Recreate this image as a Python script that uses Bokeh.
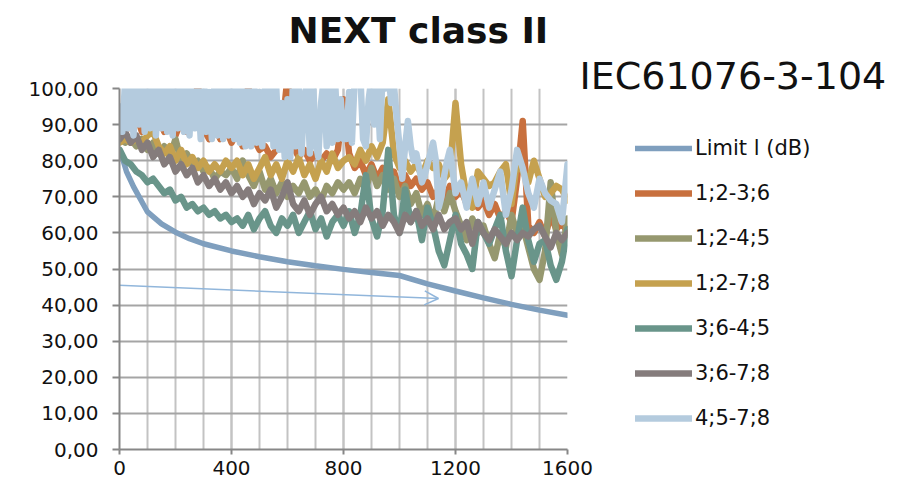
from bokeh.plotting import figure
from bokeh.models import (FixedTicker, Legend, LegendItem, Title, Arrow, OpenHead, Range1d)
from bokeh.embed import file_html
from bokeh.resources import INLINE

# ---------------- data ----------------
limit_freq = [1, 10, 25, 50, 100, 150, 200, 250, 300, 400, 500, 600, 700, 800,
              900, 1000, 1100, 1200, 1300, 1400, 1500, 1600]
limit_db = [82.0, 80.8, 77.0, 72.8, 65.8, 62.5, 60.2, 58.4, 57.0, 55.0, 53.4, 52.0,
            50.9, 49.9, 49.0, 48.2, 45.9, 43.9, 42.0, 40.2, 38.6, 37.2]

freq = [1] + list(range(20, 1601, 20))

p12_36 = [90, 92, 89, 93, 88, 91, 89, 92, 88, 90, 87, 91, 88, 93, 101, 89, 86, 90, 86, 89, 85,
          88, 84, 101, 86, 83, 84, 81, 83, 88, 103, 84, 81, 83, 80, 82, 80, 82, 80, 83, 97,
          82, 78, 80, 76, 79, 75, 78, 74, 77, 72, 76, 73, 75, 72, 74, 70, 72, 69, 73, 70,
          72, 68, 70, 67, 69, 65, 68, 64, 66, 63, 75, 91, 62, 60, 63, 59, 65, 61, 63, 60]

p12_45 = [86, 85, 86, 84, 86, 83, 85, 82, 84, 81, 86, 80, 82, 79, 80, 77, 78, 75, 77, 76, 78,
          75, 80, 76, 73, 77, 72, 75, 71, 74, 70, 73, 71, 74, 70, 72, 69, 73, 71, 74, 72,
          74, 71, 75, 72, 78, 73, 76, 72, 75, 70, 73, 68, 71, 65, 68, 63, 70, 66, 71, 66,
          62, 58, 64, 60, 62, 57, 53, 60, 56, 65, 60, 62, 56, 50, 47, 55, 74, 60, 54, 64]

p12_78 = [85, 86, 85, 86, 85, 87, 88, 84, 82, 84, 80, 83, 79, 81, 78, 80, 77, 79, 77, 80, 78,
          80, 76, 79, 75, 78, 81, 76, 79, 75, 80, 77, 81, 76, 79, 75, 80, 77, 82, 78, 80,
          81, 79, 83, 80, 84, 81, 85, 97, 82, 78, 80, 77, 79, 76, 80, 78, 79, 75, 77, 96,
          79, 70, 67, 77, 75, 73, 74, 77, 79, 68, 80, 77, 74, 80, 75, 70, 71, 73, 72, 69]

p36_45 = [83, 80, 79, 77, 76, 74, 75, 73, 71, 72, 69, 70, 67, 68, 66, 67, 65, 66, 64, 65, 63,
          64, 62, 65, 61, 64, 66, 62, 60, 64, 62, 65, 60, 63, 66, 61, 64, 59, 63, 65, 62,
          66, 60, 65, 76, 64, 59, 66, 83, 65, 60, 72, 63, 66, 58, 67, 62, 55, 51, 58, 65,
          57, 54, 50, 63, 60, 57, 61, 65, 55, 48, 58, 67, 58, 52, 57, 58, 51, 47, 52, 61]

p36_78 = [86, 88, 85, 87, 83, 85, 81, 83, 79, 81, 77, 79, 76, 78, 74, 76, 73, 75, 72, 74, 71,
          73, 70, 72, 68, 71, 69, 72, 67, 70, 74, 68, 66, 69, 65, 68, 70, 66, 68, 65, 67,
          64, 66, 63, 67, 64, 66, 62, 65, 63, 60, 65, 63, 66, 62, 64, 61, 65, 61, 63, 64,
          61, 63, 57, 63, 60, 58, 61, 59, 57, 60, 58, 60, 59, 61, 62, 59, 56, 60, 58, 60]

# 4;5-7;8 is sampled more densely (every 10 MHz up to 1200 MHz)
freq_45_78 = [1] + list(range(10, 1201, 10)) + list(range(1220, 1601, 20))
p45_78 = [95, 88, 102, 89, 104, 87, 101, 90, 105, 88, 103, 89, 106, 87, 102, 89, 104, 88, 101, 87,
          103, 89, 106, 88, 102, 87, 104, 89, 101, 86, 105, 88, 99, 86, 103, 87, 101, 86, 104, 87,
          100,
          86, 101, 85, 100, 84, 102, 84, 103, 85, 99, 84, 101, 86, 104, 84, 100, 83, 96, 81, 97,
          81, 103, 84, 101, 82, 98, 101, 82, 105, 85, 81, 96, 103, 84, 101, 85, 102, 86, 97, 86,
          86, 99, 85, 103, 101, 104, 86, 84, 97, 103, 90, 102, 86, 105, 100, 106, 96, 101, 92, 84,
          75, 84, 91, 84, 80, 82, 78, 74, 76, 79, 82, 85, 80, 67, 70, 76, 80, 83, 77, 71,
          74, 67, 75, 68, 74, 67, 72, 77, 65, 72, 83, 78, 71, 67, 75, 71, 69, 68, 63, 79]

series_names = ["1;2-3;6", "1;2-4;5", "1;2-7;8", "3;6-4;5", "3;6-7;8", "4;5-7;8"]
series_freqs = [freq, freq, freq, freq, freq, freq_45_78]
series_values = [p12_36, p12_45, p12_78, p36_45, p36_78, p45_78]
series_colors = ["#C8703E", "#96986F", "#C5A14F", "#69958A", "#857C7C", "#B4CBDE"]
limit_name = "Limit l (dB)"
limit_color = "#7F9FBE"

y_ticks = [0, 10, 20, 30, 40, 50, 60, 70, 80, 90, 100]
y_tick_labels = ["0,00", "10,00", "20,00", "30,00", "40,00", "50,00", "60,00",
                 "70,00", "80,00", "90,00", "100,00"]
x_ticks = [0, 400, 800, 1200, 1600]
x_grid = list(range(0, 1601, 100))

title_text = "NEXT class II"
subtitle_text = "IEC61076-3-104"

FONT = "DejaVu Sans"

# ---------------- figure ----------------
p = figure(frame_width=448, frame_height=361, output_backend="svg", toolbar_location=None,
           x_range=Range1d(0, 1600), y_range=Range1d(0, 100),
           min_border_left=119, min_border_right=108, min_border_top=88, min_border_bottom=40)
p.outline_line_color = None
p.background_fill_color = "white"
p.border_fill_color = "white"

# axes
p.yaxis.ticker = FixedTicker(ticks=y_ticks)
p.yaxis.major_label_overrides = {t: l for t, l in zip(y_ticks, y_tick_labels)}
p.xaxis.ticker = FixedTicker(ticks=x_ticks, minor_ticks=x_grid)
for ax in (p.xaxis[0], p.yaxis[0]):
    ax.axis_line_color = "#878787"
    ax.axis_line_width = 2
    ax.major_tick_line_color = "#878787"
    ax.major_tick_line_width = 2
    ax.major_tick_in = 0
    ax.minor_tick_line_color = None
    ax.major_label_text_font = FONT
    ax.major_label_text_font_size = "20px"
    ax.major_label_text_color = "#111111"
p.yaxis.major_tick_out = 7
p.yaxis.major_label_standoff = 14
p.xaxis.major_tick_out = 5
p.xaxis.major_label_standoff = 6

# grid
p.ygrid.grid_line_color = "#A5A5A5"
p.ygrid.grid_line_width = 2
p.xgrid.grid_line_color = "#C3C3C3"
p.xgrid.grid_line_width = 2
p.xgrid.minor_grid_line_color = "#C3C3C3"
p.xgrid.minor_grid_line_width = 2

# decorative arrow of the slide (drawn under the data)
p.add_layout(Arrow(x_start=0, y_start=280, x_end=438, y_end=298,
                   start_units="canvas", end_units="canvas", level="underlay",
                   end=OpenHead(size=14, line_color="#91B6DB", line_width=1.5),
                   line_color="#91B6DB", line_width=1.5))

# series
items = []
r = p.line(limit_freq, limit_db, line_color=limit_color, line_width=5.5, line_cap="round")
items.append(LegendItem(label=limit_name, renderers=[r]))
for name, fx, vals, col in zip(series_names, series_freqs, series_values, series_colors):
    r = p.line(fx, vals, line_color=col, line_width=6.5, line_join="round", line_cap="round")
    items.append(LegendItem(label=name, renderers=[r]))

legend = Legend(items=items, location=(68, 19), padding=0, margin=0,
                border_line_color=None, background_fill_alpha=0,
                glyph_width=57, glyph_height=24, label_height=24, spacing=21,
                label_standoff=3, label_text_font=FONT, label_text_font_size="21px",
                label_text_color="#111111")
p.add_layout(legend, "right")

# titles (subtitle nearest to the frame, main title above it)
p.add_layout(Title(text=subtitle_text, align="left", offset=460, standoff=-19,
                   text_font=FONT, text_font_style="normal", text_font_size="38px",
                   text_color="#111111"), "above")
p.add_layout(Title(text=title_text, align="left", offset=169, standoff=17,
                   vertical_align="top",
                   text_font=FONT, text_font_style="bold", text_font_size="36px",
                   text_color="#111111"), "above")

open("out.html", "w").write(file_html(p, INLINE))
